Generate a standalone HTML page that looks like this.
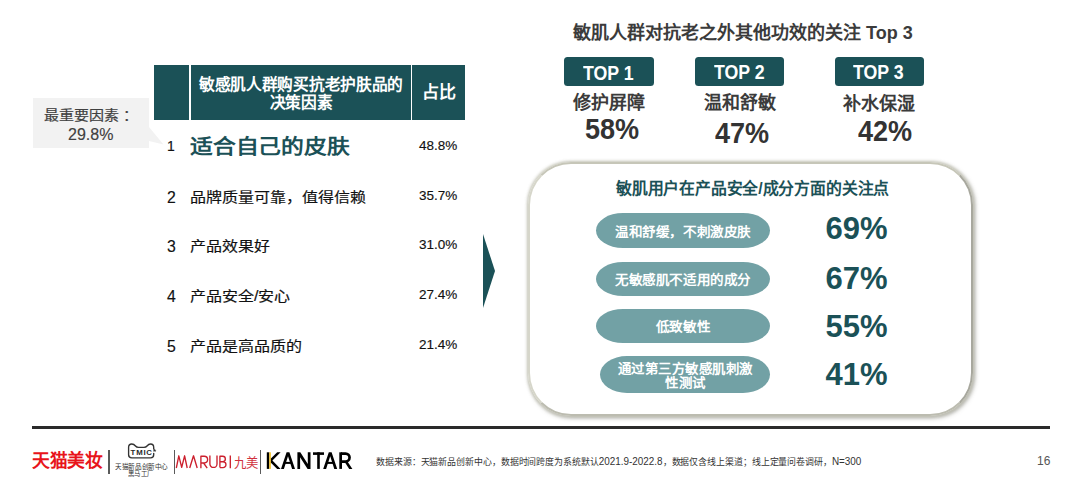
<!DOCTYPE html>
<html lang="zh-CN">
<head>
<meta charset="utf-8">
<style>
html,body{margin:0;padding:0;background:#fff;}
body{width:1080px;height:485px;position:relative;overflow:hidden;font-family:"Liberation Sans",sans-serif;}
.a{position:absolute;white-space:nowrap;}
.teal{background:#1b5157;}
.hdr{color:#fff;font-weight:bold;}
.row{color:#111;-webkit-text-stroke:0.15px #111;}
.cj{-webkit-text-stroke:0.2px #111;}
.sx{transform:scaleX(0.92);transform-origin:0 0;}
.sx2{transform:scaleX(0.905);transform-origin:0 0;}
.big{font-size:29.9px;line-height:34px;font-weight:bold;color:#333;}
</style>
</head>
<body>
<!-- callout -->
<div class="a" style="left:33px;top:98px;width:116px;height:50px;background:#f2f2f2;"></div>
<svg class="a" style="left:140px;top:120px" width="30" height="30"><polygon points="9,7 23.5,24.5 9,21" fill="#f2f2f2"/></svg>
<div class="a" style="left:44px;top:105.5px;font-size:15px;line-height:20px;color:#404040;transform:scaleY(0.88);-webkit-text-stroke:0.2px #404040;">最重要因素<span style="margin-left:4px">：</span></div>
<div class="a" style="left:68px;top:125px;font-size:16px;line-height:20px;color:#404040;-webkit-text-stroke:0.15px #404040;">29.8%</div>

<!-- table header -->
<div class="a teal" style="left:153.5px;top:64.5px;width:35.5px;height:55px;"></div>
<div class="a teal" style="left:191px;top:64.5px;width:220px;height:55px;"></div>
<div class="a teal" style="left:412px;top:64.5px;width:53px;height:55px;"></div>
<div class="a hdr" style="left:191px;top:75.5px;width:220px;text-align:center;font-size:16px;line-height:18.5px;transform:scaleX(0.98);">敏感肌人群购买抗老护肤品的<br>决策因素</div>
<div class="a hdr" style="left:412px;top:83px;width:53px;text-align:center;font-size:17px;line-height:20px;">占比</div>

<!-- rows -->
<div class="a row" style="left:167px;top:137px;font-size:14px;line-height:18px;">1</div>
<div class="a" style="left:190px;top:132px;font-size:23px;line-height:30px;transform:scale(0.99,0.88);transform-origin:0 50%;font-weight:bold;color:#1b5157;">适合自己的皮肤</div>
<div class="a row" style="left:419px;top:137px;font-size:13.5px;line-height:18px;">48.8%</div>

<div class="a row" style="left:167px;top:188.5px;font-size:15.8px;line-height:18px;">2</div>
<div class="a row cj" style="left:190px;top:187px;font-size:16px;line-height:22px;transform:scaleY(0.86);">品牌质量可靠，值得信赖</div>
<div class="a row" style="left:419px;top:187px;font-size:13.5px;line-height:18px;">35.7%</div>

<div class="a row" style="left:167px;top:237.5px;font-size:15.8px;line-height:18px;">3</div>
<div class="a row cj" style="left:190px;top:236px;font-size:16px;line-height:22px;transform:scaleY(0.86);">产品效果好</div>
<div class="a row" style="left:419px;top:236px;font-size:13.5px;line-height:18px;">31.0%</div>

<div class="a row" style="left:167px;top:287.5px;font-size:15.8px;line-height:18px;">4</div>
<div class="a row cj" style="left:190px;top:286px;font-size:16px;line-height:22px;transform:scaleY(0.86);">产品安全/安心</div>
<div class="a row" style="left:419px;top:286px;font-size:13.5px;line-height:18px;">27.4%</div>

<div class="a row" style="left:167px;top:337.5px;font-size:15.8px;line-height:18px;">5</div>
<div class="a row cj" style="left:190px;top:335.5px;font-size:16px;line-height:22px;transform:scaleY(0.86);">产品是高品质的</div>
<div class="a row" style="left:419px;top:336px;font-size:13.5px;line-height:18px;">21.4%</div>

<!-- arrow -->
<svg class="a" style="left:480px;top:230px" width="20" height="82"><polygon points="3,4 15,41 3,78" fill="#1b5157"/></svg>

<!-- right title -->
<div class="a" style="left:573px;top:20px;font-size:18px;line-height:26px;font-weight:bold;color:#3b3b3b;">敏肌人群对抗老之外其他功效的关注 Top 3</div>

<div class="a teal" style="left:564px;top:57px;width:89.5px;height:29px;border-radius:3.5px;"></div>
<div class="a teal" style="left:695px;top:57px;width:89px;height:29px;border-radius:3.5px;"></div>
<div class="a teal" style="left:834.5px;top:57px;width:89.5px;height:29px;border-radius:3.5px;"></div>
<div class="a hdr sx" style="left:583px;top:61.5px;font-size:19.3px;line-height:24px;">TOP 1</div>
<div class="a hdr sx" style="left:714px;top:61px;font-size:19.3px;line-height:24px;">TOP 2</div>
<div class="a hdr sx" style="left:853px;top:61px;font-size:19.3px;line-height:24px;">TOP 3</div>

<div class="a" style="left:564px;top:90px;width:90px;text-align:center;font-size:18px;line-height:26px;font-weight:bold;color:#3b3b3b;">修护屏障</div>
<div class="a" style="left:695px;top:90px;width:89px;text-align:center;font-size:18px;line-height:26px;font-weight:bold;color:#3b3b3b;">温和舒敏</div>
<div class="a" style="left:834px;top:91px;width:90px;text-align:center;font-size:18px;line-height:26px;font-weight:bold;color:#3b3b3b;">补水保湿</div>

<div class="a big sx2" style="left:585px;top:112px;">58%</div>
<div class="a big sx2" style="left:714.5px;top:115.5px;">47%</div>
<div class="a big sx2" style="left:857.5px;top:114px;">42%</div>

<!-- rounded box -->
<div class="a" style="left:527.6px;top:162.2px;width:445px;height:254.3px;box-sizing:border-box;border:2px solid;border-color:#c6c6b8 #a8a89e #bcbcb0 #d6d6ca;border-radius:43px;box-shadow:0 0 2.5px 0.5px rgba(200,200,185,0.8),1.5px 1.5px 4px rgba(80,80,65,0.5);"></div>
<div class="a" style="left:616px;top:176.5px;font-size:16px;transform:scaleX(0.988);transform-origin:0 0;line-height:24px;font-weight:bold;color:#1b5157;">敏肌用户在产品安全/成分方面的关注点</div>

<div class="a" style="left:596px;top:213px;width:174px;height:35px;border-radius:27px/17.5px;background:#72a1a5;"></div>
<div class="a" style="left:596px;top:262px;width:174px;height:34px;border-radius:27px/17px;background:#72a1a5;"></div>
<div class="a" style="left:596px;top:309px;width:174px;height:34px;border-radius:27px/17px;background:#72a1a5;"></div>
<div class="a" style="left:599.5px;top:356px;width:170.5px;height:37px;border-radius:27px/18.5px;background:#72a1a5;"></div>

<div class="a hdr" style="left:596px;top:220.5px;width:174px;text-align:center;font-size:14px;line-height:20px;transform:scale(0.97,0.9);">温和舒缓，不刺激皮肤</div>
<div class="a hdr" style="left:596px;top:269.3px;width:174px;text-align:center;font-size:14px;line-height:20px;transform:scale(0.97,0.9);">无敏感肌不适用的成分</div>
<div class="a hdr" style="left:596px;top:315.6px;width:174px;text-align:center;font-size:14px;line-height:20px;transform:scale(0.97,0.9);">低致敏性</div>
<div class="a hdr" style="left:599.5px;top:360.5px;width:170.5px;text-align:center;font-size:14px;line-height:15px;transform:scale(0.96,0.9);">通过第三方敏感肌刺激<br>性测试</div>

<div class="a" style="left:825.5px;top:211px;font-size:31px;line-height:36px;font-weight:bold;color:#1b5157;">69%</div>
<div class="a" style="left:825.5px;top:261px;font-size:31px;line-height:36px;font-weight:bold;color:#1b5157;">67%</div>
<div class="a" style="left:825.5px;top:309px;font-size:31px;line-height:36px;font-weight:bold;color:#1b5157;">55%</div>
<div class="a" style="left:825.5px;top:357px;font-size:31px;line-height:36px;font-weight:bold;color:#1b5157;">41%</div>

<!-- footer line -->
<div class="a" style="left:32px;top:426.1px;width:1018.4px;height:2.9px;background:#2a2a2a;"></div>

<!-- footer logos -->
<div class="a" style="left:31.8px;top:448.3px;font-size:18px;line-height:26px;color:#e8141b;font-weight:bold;transform:scale(0.985,1.02);transform-origin:0 0;">天猫美妆</div>
<div class="a" style="left:108px;top:449.5px;width:1.6px;height:24.5px;background:#5a5a5a;"></div>
<div class="a" style="left:173.6px;top:449.5px;width:1.6px;height:24.5px;background:#5a5a5a;"></div>
<div class="a" style="left:259.8px;top:449.5px;width:1.6px;height:24.5px;background:#5a5a5a;"></div>
<svg class="a" style="left:0;top:0" width="1080" height="485" viewBox="0 0 1080 485">
 <g fill="none" stroke="#333" stroke-width="1.35" stroke-linejoin="round" stroke-linecap="round">
  <path d="M153.7,449 V447.3 Q153.7,444 150.6,444 Q148.6,444 147,446 Q146,447.3 144,447.3 H138.5 Q136.5,447.3 135.5,446 Q133.9,444 131.8,444 Q128.6,444 128.6,447.3 V454.7 Q128.6,457.8 131.8,457.8 H150.6 Q153.7,457.8 153.7,454.7 V453.3"/>
 </g>
 <path d="M154.6,448.6 l0.5,1.2 1.3,0.1 -1,0.8 0.35,1.25 -1.15,-0.7 -1.15,0.7 0.35,-1.25 -1,-0.8 1.3,-0.1z" fill="#333"/>
 <text x="130.6" y="455" font-family="Liberation Sans" font-weight="bold" font-size="7.8" textLength="21.4" lengthAdjust="spacing" fill="#2a2a2a">TMIC</text>
 <g fill="none" stroke="#cc1f2d" stroke-width="1.35" stroke-linejoin="round" stroke-linecap="butt">
  <polyline points="176.3,468 178.8,455.8 181.7,467.4 184.6,455.8 187.2,468"/>
  <polyline points="189.7,468 193.5,455.8 197.2,468"/>
  <path d="M200.9,468.2 V456.2 H204.2 A3.4,3.4 0 0 1 204.2,463 H200.9 M203.6,463 L207.2,468.2"/>
  <path d="M209.9,455.6 V463.9 A3.55,3.55 0 0 0 217,463.9 V455.6"/>
  <path d="M219.9,467.6 V456.2 H222.6 A2.75,2.75 0 0 1 222.6,461.7 H219.9 M222.6,461.7 H223 A2.95,2.95 0 0 1 223,467.6 H219.9"/>
  <path d="M230.3,455.6 V468.2"/>
 </g>
 <g fill="#000">
  <rect x="266.8" y="452.3" width="2.5" height="16.6"/>
  <rect x="269.2" y="452.3" width="1.7" height="16.6" fill="#f2c230"/>
  <polygon points="270.9,458.4 277.2,452.3 280.6,452.3 272.4,460.6 280.6,468.9 277.2,468.9 270.9,462.8"/>
  <polygon points="281,468.9 286.6,452.3 289.4,452.3 295,468.9 292.1,468.9 288,456.3 283.9,468.9"/>
  <rect x="284.3" y="461.9" width="7.4" height="2"/>
  <polygon points="297.4,468.9 297.4,452.3 300.3,452.3 307.8,464 307.8,452.3 310.5,452.3 310.5,468.9 307.6,468.9 300.1,457.3 300.1,468.9"/>
  <rect x="313" y="452.3" width="11" height="2.6"/>
  <rect x="317.2" y="452.3" width="2.6" height="16.6"/>
  <polygon points="323.2,468.9 328.8,452.3 331.6,452.3 337.2,468.9 334.3,468.9 330.2,456.3 326.1,468.9"/>
  <rect x="326.5" y="461.9" width="7.4" height="2"/>
  <rect x="339.3" y="452.3" width="2.7" height="16.6"/>
  <path d="M341,453.65 H345.6 A3.95,3.95 0 0 1 345.6,461.55 H341" fill="none" stroke="#000" stroke-width="2.7"/>
  <polygon points="344.2,461.3 347.3,461.3 352.4,468.9 349.2,468.9"/>
 </g>
</svg>
<div class="a" style="left:234px;top:452.5px;font-size:13px;line-height:20px;color:#d0303c;font-weight:300;transform:scaleX(0.95);transform-origin:0 0;">九美</div>
<div class="a" style="left:114.6px;top:463px;font-size:13px;line-height:14px;color:#333;transform:scale(0.51,0.5);transform-origin:0 0;">天猫新品创新中心</div>
<div class="a" style="left:128.4px;top:470.3px;font-size:13px;line-height:14px;color:#333;transform:scale(0.49,0.5);transform-origin:0 0;">黑马工厂</div>

<div class="a" style="left:376px;top:455px;font-size:9px;line-height:14px;color:#333;transform:scaleX(0.99);transform-origin:0 0;">数据来源：天猫新品创新中心，数据时间跨度为系统默认<span style="font-size:10px">2021.9-2022.8</span>，数据仅含线上渠道；线上定量问卷调研，<span style="font-size:10px">N=300</span></div>
<div class="a" style="left:1037px;top:453px;font-size:12px;line-height:16px;color:#555;">16</div>
</body>
</html>
